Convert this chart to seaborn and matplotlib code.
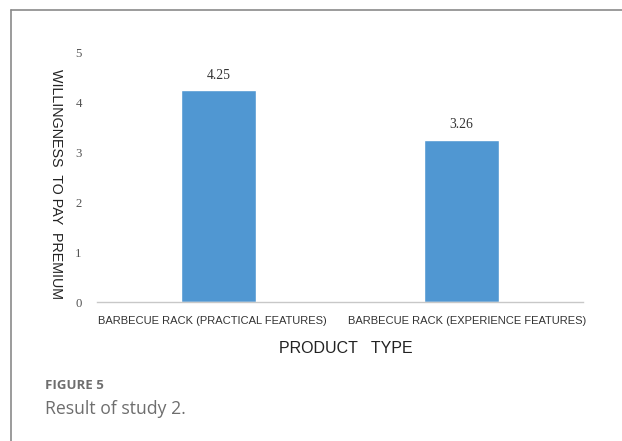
import matplotlib
matplotlib.use("Agg")
import matplotlib.pyplot as plt
import matplotlib.transforms as mtransforms
import seaborn as sns
import pandas as pd
from matplotlib.lines import Line2D

categories = ["BARBECUE RACK (PRACTICAL FEATURES)", "BARBECUE RACK (EXPERIENCE FEATURES)"]
values = [4.25, 3.26]
value_labels = ["4.25", "3.26"]
yticks = [0, 1, 2, 3, 4, 5]

sns.set_theme(style="white")
plt.rcParams['font.family'] = ['Liberation Sans', 'DejaVu Sans']

df = pd.DataFrame({"cat": categories, "val": values})

fig = plt.figure(figsize=(6.22, 4.41), dpi=100)
ax = fig.add_axes([0.156, 0.315, 0.781, 0.565])
sns.barplot(data=df, x="cat", y="val", color="#5097d2", width=0.31, ax=ax, saturation=1)

ax.set_ylim(0, 5)
ax.set_yticks(yticks)
ax.set_yticklabels([str(t) for t in yticks], family="Liberation Serif", fontsize=9.2, color="#555555")
ax.tick_params(axis="y", length=0, pad=11)
ax.tick_params(axis="x", length=0, pad=10)
shifts = [-6.5, 6.0]
for lab, dx in zip(ax.get_xticklabels(), shifts):
    lab.set_fontsize(8.0)
    lab.set_color("#333333")
    lab.set_transform(lab.get_transform() + mtransforms.ScaledTranslation(dx / 100, 0, fig.dpi_scale_trans))

for s in ["top", "right", "left"]:
    ax.spines[s].set_visible(False)
ax.spines["bottom"].set_color("#c8c8c8")
ax.spines["bottom"].set_linewidth(1.0)

for i, (v, lbl) in enumerate(zip(values, value_labels)):
    ax.text(i, v + 0.17, lbl, ha="center", va="bottom", family="Liberation Serif", fontsize=9.8, color="#333333")

ax.set_xlabel("")
ax.set_ylabel("")
fig.text(0.090, 0.583, "WILLINGNESS  TO PAY  PREMIUM", rotation=270, ha="center", va="center",
         fontsize=10.3, color="#222222")
fig.text(0.556, 0.209, "PRODUCT   TYPE", ha="center", va="center", fontsize=11.5, color="#222222")

fig.text(0.072, 0.125, "FIGURE 5", ha="left", va="center", fontsize=9.5, fontweight="bold",
         family="Open Sans", color="#6e6e6e")
fig.text(0.072, 0.073, "Result of study 2.", ha="left", va="center", fontsize=12.7,
         family="Open Sans", color="#6e6e6e")

# frame lines (top and left)
fig.add_artist(Line2D([0.0177, 1.0], [1 - 10/441, 1 - 10/441], color="#8a8a8a", linewidth=1.2, transform=fig.transFigure))
fig.add_artist(Line2D([0.0177, 0.0177], [0, 1 - 10/441], color="#8a8a8a", linewidth=1.2, transform=fig.transFigure))

fig.savefig("out.png", dpi=100)
